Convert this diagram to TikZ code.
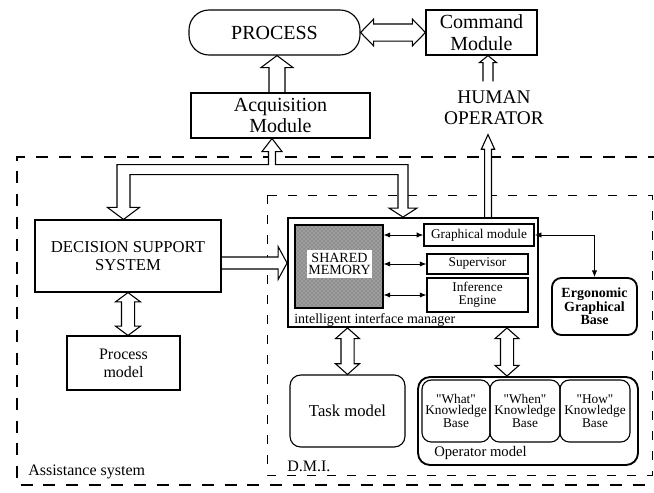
\documentclass[tikz,border=0pt]{standalone}
\usepackage{fontspec}
\setmainfont{Liberation Serif}
\usetikzlibrary{calc,arrows.meta,patterns}
\pgfdeclarelayer{frames}
\pgfdeclarelayer{arrowsl}
\pgfsetlayers{frames,arrowsl,main}
% #1 tail, #2 tip, #3 half stem, #4 half head, #5 head length
\newcommand\hollowsingle[5]{%
  \path ($(#2)!#5!(#1)$) coordinate (hsH);
  \draw[hollow] ($(#1)!#3!90:(#2)$) -- ($(hsH)!#3!90:(#2)$) -- ($(hsH)!#4!90:(#2)$) -- (#2)
     -- ($(hsH)!#4!-90:(#2)$) -- ($(hsH)!#3!-90:(#2)$) -- ($(#1)!#3!-90:(#2)$);
}
\newcommand\hollowdouble[5]{%
  \path ($(#1)!#5!(#2)$) coordinate (hdA) ($(#2)!#5!(#1)$) coordinate (hdB);
  \draw[hollow] (#1) -- ($(hdA)!#4!90:(#2)$) -- ($(hdA)!#3!90:(#2)$) -- ($(hdB)!#3!90:(#2)$)
     -- ($(hdB)!#4!90:(#2)$) -- (#2) -- ($(hdB)!#4!-90:(#2)$) -- ($(hdB)!#3!-90:(#2)$)
     -- ($(hdA)!#3!-90:(#2)$) -- ($(hdA)!#4!-90:(#2)$) -- cycle;
}
\tikzset{
  box/.style={draw, line width=0.85pt, inner sep=0pt, align=center},
  thickbox/.style={box, line width=1.4pt},
  hollow/.style={line width=0.8pt, fill=white, line join=miter},
  dblthin/.style={line width=0.6pt, {Latex[length=5pt,width=4pt]}-{Latex[length=5pt,width=4pt]}},
  dashout/.style={line width=1.3pt, dash pattern=on 9pt off 8pt},
  dashin/.style={line width=0.7pt, dash pattern=on 7pt off 8pt},
  lbl/.style={inner sep=0pt, anchor=west},
}
\begin{document}
\begin{tikzpicture}[x=0.75pt,y=-0.75pt]
\useasboundingbox (0,0) rectangle (654,493);

% top nodes
\node[box, rounded corners=15pt, minimum width=128.25pt, minimum height=33.75pt,
      font=\fontsize{15}{17}\selectfont] (process) at (274.5,32.5) {PROCESS};
\node[box, minimum width=83.25pt, minimum height=33.75pt,
      font=\fontsize{15}{16.5}\selectfont] (cmd) at (481.5,32.5) {Command\\Module};
\node[box, minimum width=134.25pt, minimum height=33.75pt,
      font=\fontsize{15}{15.5}\selectfont] (acq) at (280.5,115.5) {Acquisition\\Module};
\node[align=center, inner xsep=0pt, inner ysep=7pt,
      font=\fontsize{14.5}{15.75}\selectfont] (human) at (494,108) {HUMAN\\OPERATOR};

% assistance system
\node[box, minimum width=139.5pt, minimum height=54pt,
      font=\fontsize{12.5}{13.5}\selectfont] (dss) at (128,256) {DECISION SUPPORT\\SYSTEM};
\node[box, minimum width=84.75pt, minimum height=40.5pt,
      font=\fontsize{12}{13.5}\selectfont] (pm) at (123.5,363) {Process\\model};

% intelligent interface manager
\node[thickbox, minimum width=187.5pt, minimum height=81.75pt] (iim) at (413,272.5) {};
\node[box, preaction={fill=black!38}, pattern=crosshatch dots, pattern color=black!65,
      minimum width=66pt, minimum height=62.25pt] (shm) at (339,266.5) {};
\node[inner sep=0pt, fill=white, minimum width=48.75pt, minimum height=21pt, align=center,
      font=\fontsize{10.5}{9.5}\selectfont] (shml) at (339.5,264) {SHARED\\MEMORY};
\node[box, line width=1.1pt, minimum width=82.5pt, minimum height=16.5pt,
      font=\fontsize{10}{10}\selectfont] (gm) at (479,235) {Graphical module};
\node[box, minimum width=75.75pt, minimum height=15pt,
      font=\fontsize{10}{10}\selectfont] (sup) at (477.5,264) {Supervisor};
\node[box, minimum width=75.75pt, minimum height=25.5pt,
      font=\fontsize{10}{9.5}\selectfont] (inf) at (477.5,295) {Inference\\Engine};
\node[lbl, anchor=base west, font=\fontsize{10.5}{12}\selectfont] (iiml) at (294,323) {intelligent interface manager};

\node[thickbox, rounded corners=7pt, minimum width=63.75pt, minimum height=42.75pt,
      font=\bfseries\fontsize{10.5}{10}\selectfont] (erg) at (594.5,306.5) {Ergonomic\\Graphical\\Base};

\node[box, rounded corners=8pt, minimum width=86.25pt, minimum height=54pt,
      font=\fontsize{12.5}{14}\selectfont] (task) at (347.5,411) {Task model};
\node[thickbox, rounded corners=9pt, minimum width=165pt, minimum height=66pt] (opm) at (528,421) {};
\node[box, rounded corners=7pt, minimum width=51pt, minimum height=46.5pt,
      font=\fontsize{10}{8.6}\selectfont] (kb1) at (456,411) {\textquotedbl What\textquotedbl\\Knowledge\\Base};
\node[box, rounded corners=7pt, minimum width=52.5pt, minimum height=46.5pt,
      font=\fontsize{10}{8.6}\selectfont] (kb2) at (525,411) {\textquotedbl When\textquotedbl\\Knowledge\\Base};
\node[box, rounded corners=7pt, minimum width=52.5pt, minimum height=46.5pt,
      font=\fontsize{10}{8.6}\selectfont] (kb3) at (595,411) {\textquotedbl How\textquotedbl\\Knowledge\\Base};
\node[lbl, font=\fontsize{11}{12}\selectfont] (opml) at (434,453) {Operator model};

\node[lbl, font=\fontsize{12}{14}\selectfont] (dmil) at (287,466) {D.M.I.};
\node[lbl, font=\fontsize{12}{14}\selectfont] (asl) at (28,472) {Assistance system};

% dashed frames
\begin{pgfonlayer}{frames}
\draw[dashout] (660,157) -- (17,157) -- (17,485) -- (660,485);
\draw[dashin] (267,195) rectangle (652,475);
\end{pgfonlayer}

% thin arrows
\draw[dblthin] (shm.east |- gm.west) -- (gm.west);
\draw[dblthin] (shm.east |- sup.west) -- (sup.west);
\draw[dblthin] (shm.east |- inf.west) -- (inf.west);
\draw[dblthin] (gm.east) -| (erg.north);

% hollow arrows
\begin{pgfonlayer}{arrowsl}
\coordinate (a1t) at ($(acq.north)+(-3.5,0)$);
\coordinate (a1h) at (a1t |- process.south);
\hollowsingle{a1t}{a1h}{6pt}{12pt}{9pt}
\hollowdouble{process.east}{cmd.west}{6.4pt}{10pt}{9.75pt}
\coordinate (h1h) at ($(cmd.south)+(6.5,0)$);
\coordinate (h1t) at (h1h |- human.north);
\hollowsingle{h1t}{h1h}{3.75pt}{6.4pt}{5.25pt}
\coordinate (h2t) at (h1h |- iim.north);
\coordinate (h2h) at (h1h |- human.south);
\hollowsingle{h2t}{h2h}{2.6pt}{5pt}{11pt}
\coordinate (d1t) at ($(dss.east)+(0,7)$);
\coordinate (d1h) at (d1t -| iim.west);
\hollowsingle{d1t}{d1h}{4.5pt}{12.4pt}{6.75pt}
\coordinate (d2b) at (dss.south |- pm.north);
\hollowdouble{dss.south}{d2b}{4.9pt}{9.4pt}{7pt}
\coordinate (t1a) at (task.north |- iim.south);
\hollowdouble{t1a}{task.north}{4.9pt}{9pt}{8pt}
\coordinate (o1b) at ($(opm.north)+(-21,0)$);
\coordinate (o1a) at (o1b |- iim.south);
\hollowdouble{o1a}{o1b}{4.9pt}{9pt}{8pt}
% bus
\coordinate (tA) at ($(acq.south)+(-8.5,0)$);
\coordinate (tL) at ($(dss.north)+(-4.5,0)$);
\coordinate (tR) at ($(iim.north)+(-10,0)$);
\coordinate (ob) at ($(tA)+(0,26)$);
\coordinate (ib) at ($(tA)+(0,36)$);
\coordinate (Lo) at ($(tL)+(-6.5,-12)$);
\coordinate (Li) at ($(tL)+(6.5,-12)$);
\coordinate (Ro) at ($(tR)+(5,-9)$);
\coordinate (Ri) at ($(tR)+(-5,-9)$);
\draw[hollow] (tA) -- ($(tA)+(10,13)$) -- ($(tA)+(3.5,13)$) -- ($(tA)+(3.5,26)$)
  -- (Ro |- ob) -- (Ro) -- ($(Ro)+(9,0)$) -- (tR) -- ($(Ri)+(-9,0)$) -- (Ri)
  -- (Ri |- ib) -- (Li |- ib) -- (Li) -- ($(Li)+(9.5,0)$) -- (tL) -- ($(Lo)+(-9.5,0)$)
  -- (Lo) -- (Lo |- ob) -- ($(tA)+(-3.5,26)$) -- ($(tA)+(-3.5,13)$) -- ($(tA)+(-10,13)$) -- cycle;
\end{pgfonlayer}
\end{tikzpicture}
\end{document}
